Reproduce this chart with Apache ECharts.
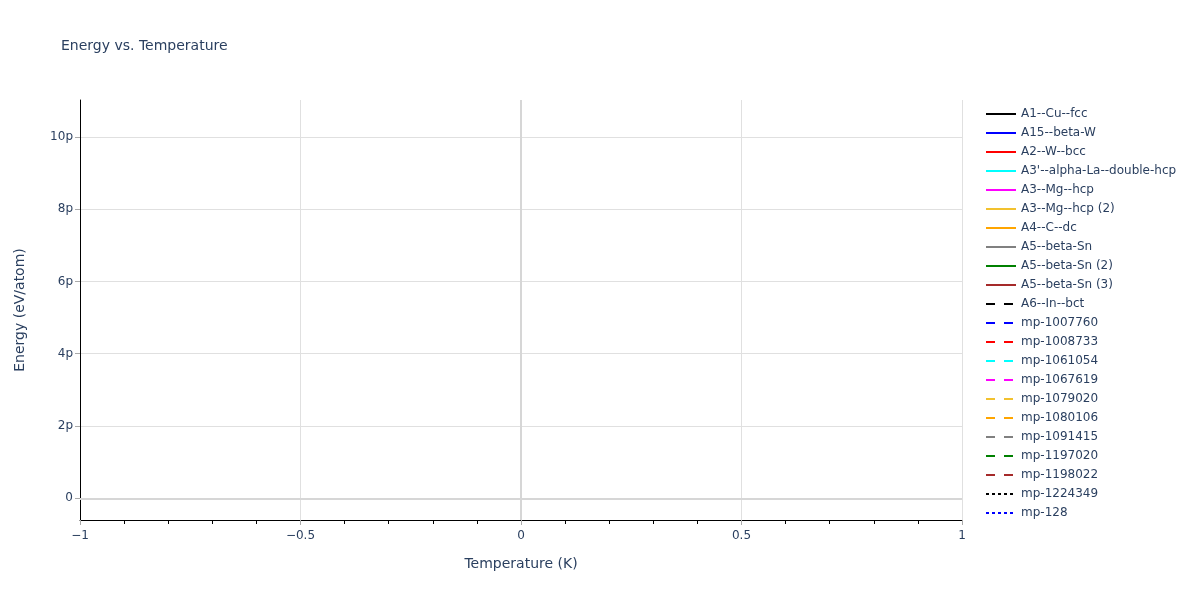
<!DOCTYPE html>
<html>
<head>
<meta charset="utf-8">
<script src="https://cdn.jsdelivr.net/npm/echarts@6/dist/echarts.min.js"></script>
<style>
html,body{margin:0;padding:0;background:#fff;}
#chart{width:1200px;height:600px;}
</style>
</head>
<body>
<div id="chart"></div>
<script>
// Series names (legend order)
const seriesNames = [
  "A1--Cu--fcc","A15--beta-W","A2--W--bcc","A3'--alpha-La--double-hcp","A3--Mg--hcp",
  "A3--Mg--hcp (2)","A4--C--dc","A5--beta-Sn","A5--beta-Sn (2)","A5--beta-Sn (3)",
  "A6--In--bct","mp-1007760","mp-1008733","mp-1061054","mp-1067619","mp-1079020",
  "mp-1080106","mp-1091415","mp-1197020","mp-1198022","mp-1224349","mp-128"
];
const seriesColors = [
  "#000000","#0000ff","#ff0000","#00ffff","#ff00ff","#f2c12e","#ffa500","#808080","#008000","#a52a2a",
  "#000000","#0000ff","#ff0000","#00ffff","#ff00ff","#f2c12e","#ffa500","#808080","#008000","#a52a2a",
  "#000000","#0000ff"
];
const seriesDash = [
  "solid","solid","solid","solid","solid","solid","solid","solid","solid","solid",
  "dash","dash","dash","dash","dash","dash","dash","dash","dash","dash",
  "dot","dot"
];
// Temperature (K) and energy (pico eV/atom) values: each series holds a single point at T=0
const temperatures = [0];
const energies = [0];
const yTickValues = [0, 2, 4, 6, 8, 10];

const dashMap = {solid: "solid", dash: [9, 9], dot: [3, 3]};
const textColor = "#2a3f5f";
const FONT = "DejaVu Sans";

const series = seriesNames.map((name, i) => ({
  name: name,
  type: "line",
  symbol: "none",
  showSymbol: false,
  data: temperatures.map((t, k) => [t, energies[k]]),
  lineStyle: {color: seriesColors[i], width: 2, type: dashMap[seriesDash[i]]},
  itemStyle: {color: seriesColors[i]}
}));
// zero lines
series.push({
  name: "_zero",
  type: "line",
  data: [],
  silent: true,
  markLine: {
    silent: true,
    symbol: "none",
    label: {show: false},
    lineStyle: {color: "#d6d6d6", width: 2, type: "solid"},
    data: [{xAxis: 0}, {yAxis: 0}]
  }
});

const chart = echarts.init(document.getElementById("chart"), null, {renderer: "canvas"});
chart.setOption({
  animation: false,
  textStyle: {fontFamily: FONT},
  title: {
    text: "Energy vs. Temperature",
    left: 61, top: 39, padding: 0,
    textStyle: {fontFamily: FONT, fontSize: 14, fontWeight: "normal", color: textColor}
  },
  legend: {
    data: seriesNames,
    orient: "vertical",
    left: 985, top: 108, padding: 0,
    itemWidth: 30, itemHeight: 14, itemGap: 7,
    itemStyle: {opacity: 0},
    textStyle: {fontFamily: FONT, fontSize: 12, color: textColor, padding: [0, 0, 0, 0]},
    inactiveColor: "#ccc"
  },
  grid: {left: 80, right: 238, top: 100, bottom: 80, containLabel: false},
  xAxis: {
    type: "value",
    min: -1, max: 1, interval: 0.5,
    name: "Temperature (K)",
    nameLocation: "middle", nameGap: 37,
    nameTextStyle: {fontFamily: FONT, fontSize: 14, color: textColor},
    axisLine: {show: true, onZero: false, lineStyle: {color: "#000", width: 1}},
    axisTick: {show: true, length: 5, lineStyle: {color: "#aaa"}},
    minorTick: {show: true, splitNumber: 5, length: 4, lineStyle: {color: "#000"}},
    axisLabel: {
      fontFamily: FONT, fontSize: 12, color: textColor, margin: 10,
      formatter: v => (v < 0 ? "\u2212" + Math.abs(v) : String(v))
    },
    splitLine: {show: true, lineStyle: {color: "#e0e0e0", width: 1}}
  },
  yAxis: {
    type: "value",
    min: -0.6, max: 11.02, interval: 2,
    name: "Energy (eV/atom)",
    nameLocation: "middle", nameGap: 53,
    nameTextStyle: {fontFamily: FONT, fontSize: 14, color: textColor},
    axisLine: {show: true, onZero: false, lineStyle: {color: "#000", width: 1}},
    axisTick: {show: true, length: 5, lineStyle: {color: "#aaa"}, customValues: yTickValues},
    axisLabel: {
      fontFamily: FONT, fontSize: 12, color: textColor, margin: 7,
      customValues: yTickValues,
      formatter: v => (v === 0 ? "0" : v + "p")
    },
    splitLine: {show: true, lineStyle: {color: "#e0e0e0", width: 1}}
  },
  series: series
});
</script>
</body>
</html>
